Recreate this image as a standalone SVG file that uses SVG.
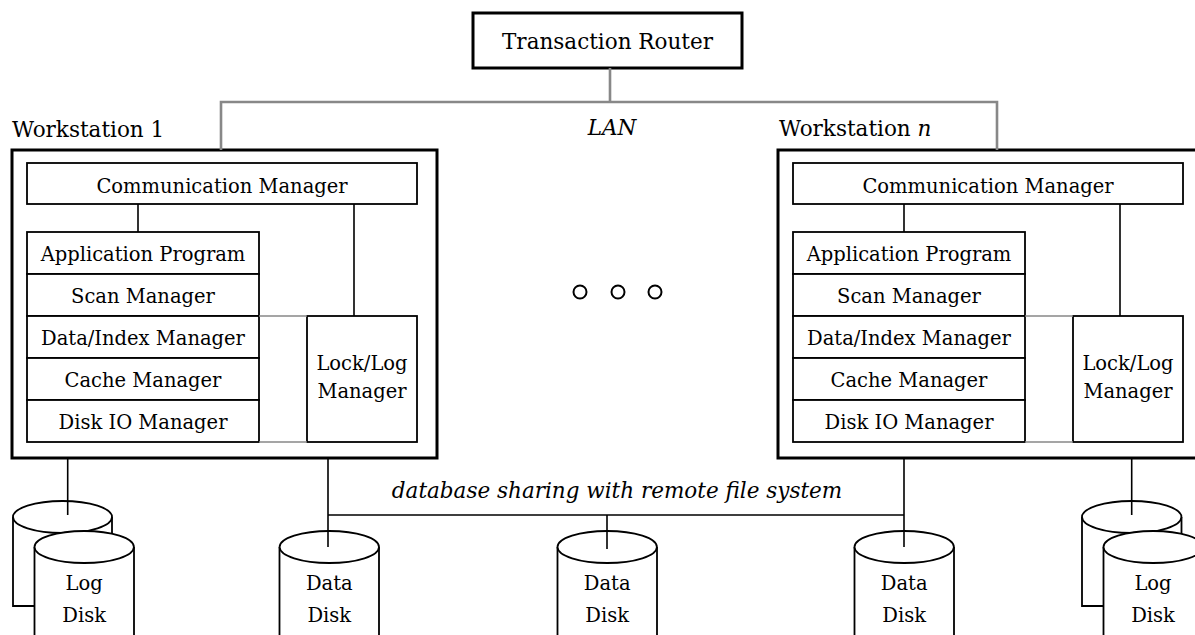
<svg xmlns="http://www.w3.org/2000/svg" width="1195" height="635" viewBox="0 0 1195 635">
<style>
text{font-family:"DejaVu Serif","Liberation Serif",serif;fill:#000}
.lbl{font-size:21.5px}
.in{font-size:19.5px;text-anchor:middle}
.it{font-style:italic}
.outer{fill:#fff;stroke:#000;stroke-width:3}
.box{fill:#fff;stroke:#000;stroke-width:1.8}
.cyl{fill:#fff;stroke:#000;stroke-width:1.8}
.conn{fill:none;stroke:#000;stroke-width:1.6}
.gray{fill:none;stroke:#888;stroke-width:1.6}
.lan{fill:none;stroke:#888;stroke-width:2.6}
.dot{fill:none;stroke:#000;stroke-width:2}
</style>
<defs>
<g id="ws">
<rect class="outer" x="12" y="150" width="425" height="308"/>
<rect class="box" x="27" y="163" width="390" height="41"/>
<text class="in" x="222" y="192.5">Communication Manager</text>
<rect class="box" x="27" y="232" width="232" height="42"/>
<text class="in" x="143" y="260.5">Application Program</text>
<rect class="box" x="27" y="274" width="232" height="42"/>
<text class="in" x="143" y="302.5">Scan Manager</text>
<rect class="box" x="27" y="316" width="232" height="42"/>
<text class="in" x="143" y="344.5">Data/Index Manager</text>
<rect class="box" x="27" y="358" width="232" height="42"/>
<text class="in" x="143" y="386.5">Cache Manager</text>
<rect class="box" x="27" y="400" width="232" height="42"/>
<text class="in" x="143" y="428.5">Disk IO Manager</text>
<rect class="box" x="307" y="316" width="110" height="126"/>
<text class="in" x="362" y="370">Lock/Log</text>
<text class="in" x="362" y="398">Manager</text>
<path class="conn" d="M138,204V232M354,204V316"/>
<path class="gray" d="M259,316H307M259,442H307"/>
</g>
</defs>
<g id="router">
<rect class="outer" x="473" y="13" width="269" height="55"/>
<text class="lbl" x="607.5" y="49" text-anchor="middle">Transaction Router</text>
</g>
<g id="workstation1">
<text class="lbl" x="12" y="137">Workstation 1</text>
<use href="#ws"/>
</g>
<g id="workstationN">
<text class="lbl" x="779" y="136">Workstation <tspan class="it">n</tspan></text>
<use href="#ws" transform="translate(766,0)"/>
</g>
<g id="dots">
<circle class="dot" cx="580" cy="292" r="6.5"/>
<circle class="dot" cx="618" cy="292" r="6.5"/>
<circle class="dot" cx="655" cy="292" r="6.5"/>
</g>
<g id="logdisk1">
<path class="cyl" d="M13,517V606H112V517"/>
<ellipse class="cyl" cx="62.5" cy="517" rx="49.5" ry="16"/>
<path class="cyl" d="M34.5,547V645H134V547"/>
<ellipse class="cyl" cx="84.2" cy="547" rx="49.7" ry="16"/>
<text class="in" x="84.2" y="590">Log</text>
<text class="in" x="84.2" y="621.5">Disk</text>
</g>
<g id="datadisk1">
<path class="cyl" d="M279.5,547V645H379V547"/>
<ellipse class="cyl" cx="329.3" cy="547" rx="49.7" ry="16"/>
<text class="in" x="329.3" y="590">Data</text>
<text class="in" x="329.3" y="621.5">Disk</text>
</g>
<g id="datadisk2">
<path class="cyl" d="M557.5,547V645H657V547"/>
<ellipse class="cyl" cx="607.2" cy="547" rx="49.7" ry="16"/>
<text class="in" x="607.2" y="590">Data</text>
<text class="in" x="607.2" y="621.5">Disk</text>
</g>
<g id="datadisk3">
<path class="cyl" d="M854.5,547V645H954V547"/>
<ellipse class="cyl" cx="904.2" cy="547" rx="49.7" ry="16"/>
<text class="in" x="904.2" y="590">Data</text>
<text class="in" x="904.2" y="621.5">Disk</text>
</g>
<g id="logdiskN">
<path class="cyl" d="M1082,517V606H1181.5V517"/>
<ellipse class="cyl" cx="1131.7" cy="517" rx="49.7" ry="16"/>
<path class="cyl" d="M1103.5,547V645H1203V547"/>
<ellipse class="cyl" cx="1153.2" cy="547" rx="49.7" ry="16"/>
<text class="in" x="1153" y="590">Log</text>
<text class="in" x="1153" y="621.5">Disk</text>
</g>
<g id="connectors">
<path class="lan" d="M221,150V102H997V150M610,68V102"/>
<text class="lbl it" x="612" y="135" text-anchor="middle">LAN</text>
<path class="conn" d="M67.7,458V515M328,458V547M328,515H904M607,515V549M904,458V547M1131.7,458V515"/>
<text class="lbl it" x="617" y="497.5" text-anchor="middle">database sharing with remote file system</text>
</g>
</svg>
